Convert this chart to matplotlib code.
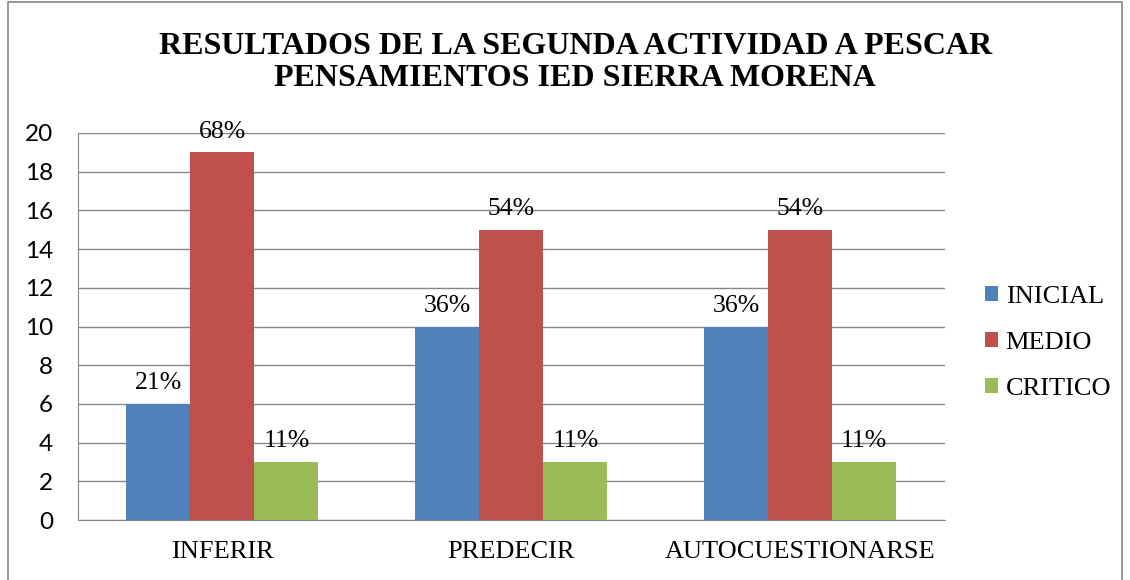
import numpy as np
import matplotlib.pyplot as plt
from matplotlib.patches import Rectangle

categories = ['INFERIR', 'PREDECIR', 'AUTOCUESTIONARSE']
series = ['INICIAL', 'MEDIO', 'CRITICO']
inicial = [6, 10, 10]
medio = [19, 15, 15]
critico = [3, 3, 3]
pct_inicial = ['21%', '36%', '36%']
pct_medio = ['68%', '54%', '54%']
pct_critico = ['11%', '11%', '11%']
colors = ['#4F81BD', '#C0504D', '#9BBB59']

serif = 'Liberation Serif'

fig = plt.figure(figsize=(11.3, 5.8), dpi=100)
ax = fig.add_axes([0.069, 0.1034, 0.767, 0.6673])

x = np.arange(len(categories))
w = 0.2215
values = [inicial, medio, critico]
labels = [pct_inicial, pct_medio, pct_critico]
for i, (vals, labs) in enumerate(zip(values, labels)):
    bars = ax.bar(x + (i - 1) * w, vals, w, color=colors[i], label=series[i], zorder=3)
    for b, lab in zip(bars, labs):
        ax.annotate(lab, (b.get_x() + b.get_width() / 2, b.get_height()),
                    xytext=(0, 7), textcoords='offset points', ha='center', va='bottom',
                    fontsize=18.5, family=serif)

ax.set_xlim(-0.5, 2.5)
ax.set_ylim(0, 20)
ax.set_yticks(range(0, 21, 2))
ax.grid(axis='y', color='#868686', linewidth=1, zorder=0)
ax.set_xticks(x)
ax.set_xticklabels(categories, family=serif, fontsize=19)
ax.tick_params(axis='x', length=0, pad=15)
ax.tick_params(axis='y', length=0, pad=18, labelsize=17.5)
for t in ax.get_yticklabels():
    t.set_family('Lato')
for s in ['top', 'right']:
    ax.spines[s].set_visible(False)
for s in ['left', 'bottom']:
    ax.spines[s].set_color('#868686')

fig.text(0.509, 0.892, 'RESULTADOS DE LA SEGUNDA ACTIVIDAD A PESCAR\nPENSAMIENTOS IED SIERRA MORENA',
         ha='center', va='center', fontsize=23, fontweight='bold', family=serif, linespacing=1.15)

leg = ax.legend(loc='center left', bbox_to_anchor=(1.046, 0.458), frameon=False,
                prop={'family': serif, 'size': 19}, handlelength=0.5, handleheight=0.5,
                handletextpad=0.3, labelspacing=0.9, borderpad=0, borderaxespad=0)

fig.patches.append(Rectangle((0.007, -0.01), 0.986, 1.006, transform=fig.transFigure,
                             fill=False, edgecolor='#868686', linewidth=1.2))

fig.savefig('out.png', dpi=100)
